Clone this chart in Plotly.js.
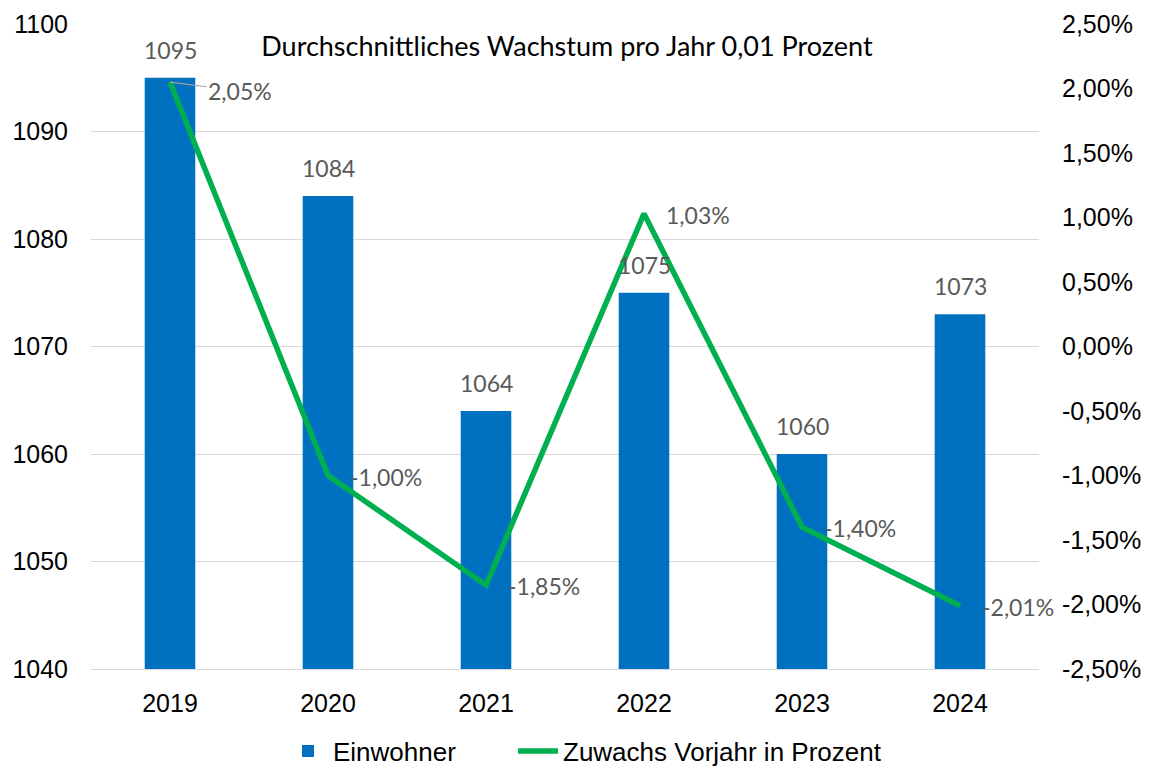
<!DOCTYPE html>
<html>
<head>
<meta charset="utf-8">
<script src="https://cdn.plot.ly/plotly-3.0.1.min.js"></script>
<style>html,body{margin:0;padding:0;background:#fff;}#chart{width:1157px;height:769px;}</style>
</head>
<body>
<div id="chart"></div>
<script>
const years = ["2019", "2020", "2021", "2022", "2023", "2024"];
const einwohner = [1095, 1084, 1064, 1075, 1060, 1073];
const zuwachsProzent = [2.05, -1.00, -1.85, 1.03, -1.40, -2.01];
const rightTicksProzent = [2.5, 2.0, 1.5, 1.0, 0.5, 0, -0.5, -1.0, -1.5, -2.0, -2.5];
const chartTitle = "Durchschnittliches Wachstum pro Jahr 0,01 Prozent";
const seriesNames = ["Einwohner", "Zuwachs Vorjahr in Prozent"];

const zuwachs = zuwachsProzent.map(v => v / 100);
const fmtPct = v => v.toFixed(2).replace(".", ",") + "%";

const labelFont = {family: "Lato, 'Open Sans', sans-serif", size: 23, color: "#595959"};
const tickFont = {family: "'Liberation Sans', Arial, sans-serif", size: 25, color: "#000"};
const legendFont = {family: "'Liberation Sans', Arial, sans-serif", size: 26, color: "#000"};

const traces = [
  {
    type: "bar", x: years, y: einwohner, name: seriesNames[0], legend: "legend",
    marker: {color: "#0070c0"}, yaxis: "y", hoverinfo: "skip"
  },
  {
    type: "scatter", mode: "lines", x: years, y: zuwachs, name: seriesNames[1], legend: "legend2",
    line: {color: "#00b050", width: 5.5}, yaxis: "y2", hoverinfo: "skip"
  }
];

const annotations = [];
years.forEach((yr, i) => {
  annotations.push({
    x: i, y: einwohner[i], xref: "x", yref: "y", text: String(einwohner[i]),
    showarrow: false, yanchor: "bottom", yshift: 12, font: labelFont
  });
  if (i === 0) {
    annotations.push({
      x: i, y: zuwachs[i], xref: "x", yref: "y2", text: fmtPct(zuwachsProzent[i]),
      showarrow: true, arrowhead: 0, arrowwidth: 1.2, arrowcolor: "#a6a6a6",
      axref: "pixel", ayref: "pixel", ax: 70, ay: 9, standoff: 0, font: labelFont
    });
  } else {
    annotations.push({
      x: i, y: zuwachs[i], xref: "x", yref: "y2", text: fmtPct(zuwachsProzent[i]),
      showarrow: false, xanchor: "left", xshift: 20, yshift: -1, font: labelFont
    });
  }
});

const legendBase = {
  orientation: "h", xanchor: "left", xref: "container",
  y: (769 - 751) / 769, yanchor: "middle", yref: "container",
  font: legendFont, itemwidth: 40
};

const layout = {
  width: 1157, height: 769,
  margin: {l: 91, r: 118, t: 24, b: 100},
  paper_bgcolor: "#fff", plot_bgcolor: "#fff",
  separators: ",.",
  title: {
    text: chartTitle, font: {family: "Lato, 'Open Sans', sans-serif", size: 27, color: "#000"},
    x: 0.49, xanchor: "center", xref: "container", y: 1 - 47 / 769, yref: "container", yanchor: "middle"
  },
  bargap: 0.68,
  xaxis: {
    type: "category", range: [-0.5, years.length - 0.5], autorange: false,
    tickfont: tickFont, showgrid: false, zeroline: false, automargin: false,
    showline: true, linecolor: "#d9d9d9", linewidth: 1, ticks: "", ticklabelstandoff: 12
  },
  yaxis: {
    range: [1040, 1100], dtick: 10, tickfont: tickFont, showgrid: true, gridcolor: "#d9d9d9",
    gridwidth: 1, zeroline: false, showline: false, ticks: "", ticklabelstandoff: 22, automargin: false
  },
  yaxis2: {
    range: [-0.025, 0.025], tickmode: "array",
    tickvals: rightTicksProzent.map(v => v / 100), ticktext: rightTicksProzent.map(fmtPct),
    tickfont: tickFont, automargin: false,
    overlaying: "y", side: "right", showgrid: false, zeroline: false, showline: false,
    ticks: "", ticklabelstandoff: 22
  },
  legend: Object.assign({}, legendBase, {x: 283 / 1157}),
  legend2: Object.assign({}, legendBase, {x: 513 / 1157}),
  annotations: annotations,
  showlegend: true
};

Plotly.newPlot("chart", traces, layout, {staticPlot: true});
</script>
</body>
</html>
